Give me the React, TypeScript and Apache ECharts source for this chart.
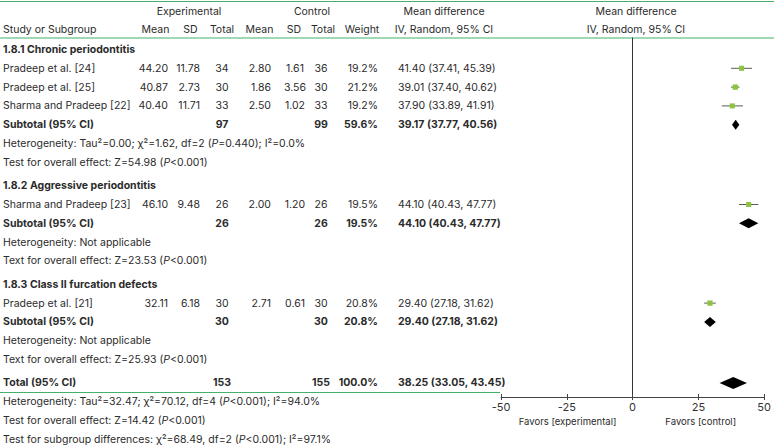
import React, { useEffect, useRef } from "react";
import * as echarts from "echarts";

// ---------------- data ----------------
const groups = [
  "1.8.1 Chronic periodontitis",
  "1.8.2 Aggressive periodontitis",
  "1.8.3 Class II furcation defects",
];
const studies = [
  "Pradeep et al. [24]",
  "Pradeep et al. [25]",
  "Sharma and Pradeep [22]",
  "Sharma and Pradeep [23]",
  "Pradeep et al. [21]",
];
const studyGroup = [0, 0, 0, 1, 2];
const expMean = [44.2, 40.87, 40.4, 46.1, 32.11];
const expSD = [11.78, 2.73, 11.71, 9.48, 6.18];
const expN = [34, 30, 33, 26, 30];
const ctlMean = [2.8, 1.86, 2.5, 2.0, 2.71];
const ctlSD = [1.61, 3.56, 1.02, 1.2, 0.61];
const ctlN = [36, 30, 33, 26, 30];
const weights = [19.2, 21.2, 19.2, 19.5, 20.8];
const md = [41.4, 39.01, 37.9, 44.1, 29.4];
const mdLo = [37.41, 37.4, 33.89, 40.43, 27.18];
const mdHi = [45.39, 40.62, 41.91, 47.77, 31.62];

const subExpN = [97, 26, 30];
const subCtlN = [99, 26, 30];
const subWeight = [59.6, 19.5, 20.8];
const subMd = [39.17, 44.1, 29.4];
const subLo = [37.77, 40.43, 27.18];
const subHi = [40.56, 47.77, 31.62];
const subHeterogeneity = [
  "Heterogeneity: Tau²=0.00; χ²=1.62, df=2 ({i|P}=0.440); I²=0.0%",
  "Heterogeneity: Not applicable",
  "Heterogeneity: Not applicable",
];
const subOverall = [
  "Test for overall effect: Z=54.98 ({i|P}<0.001)",
  "Text for overall effect: Z=23.53 ({i|P}<0.001)",
  "Text for overall effect: Z=25.93 ({i|P}<0.001)",
];

const totalExpN = 153;
const totalCtlN = 155;
const totalWeight = 100.0;
const totalMd = 38.25;
const totalLo = 33.05;
const totalHi = 43.45;
const totalNotes = [
  "Heterogeneity: Tau²=32.47; χ²=70.12, df=4 ({i|P}<0.001); I²=94.0%",
  "Test for overall effect: Z=14.42 ({i|P}<0.001)",
  "Test for subgroup differences: χ²=68.49, df=2 ({i|P}<0.001); I²=97.1%",
];

const xMin = -50;
const xMax = 50;
const xInterval = 25;
const favorLabels = ["Favors [experimental]", "Favors [control]"];

// ---------------- layout ----------------
const W = 774;
const H = 446;
const FONT = "Inter, 'Noto Sans', sans-serif";
const FS = 10.5;
const TEXT = "#2b2b2b";
const GREEN = "#43b06c";
const SQUARE = "#8cc43f";
const Y0 = 49.5; // first row centre
const ROW_H = 18.8;
const GAP = 0.245; // extra rows between sections
const GRID_LEFT = 501;
const GRID_RIGHT = 767.3;
const GRID_TOP = 38;
const GRID_BOTTOM = 397;

const slot = (i: number, sec: number) => i + sec * GAP;
const py = (v: number) => Y0 + v * ROW_H;

const f2 = (n: number) => n.toFixed(2);
const ci = (m: number, l: number, h: number) => `${f2(m)} (${f2(l)}, ${f2(h)})`;

export default function App() {
  const ref = useRef<HTMLDivElement>(null);

  useEffect(() => {
    if (!ref.current) return;
    const chart = echarts.init(ref.current, undefined, { renderer: "svg" });

    const texts: any[] = [];
    const txt = (
      s: string,
      x: number,
      y: number,
      align: string,
      bold = false,
      size = FS,
      color = TEXT
    ) => {
      texts.push({
        type: "text",
        silent: true,
        style: {
          text: s,
          x,
          y,
          align,
          verticalAlign: "middle",
          textAlign: align,
          textVerticalAlign: "middle",
          font: `${bold ? "bold " : ""}${size}px ${FONT}`,
          fill: color,
          rich: {
            i: {
              fontStyle: "italic",
              fontWeight: bold ? "bold" : "normal",
              fontSize: size,
              fontFamily: FONT,
              fill: color,
            },
          },
        },
      });
    };

    // column positions
    const C = {
      study: 3,
      eMean: 168,
      eSD: 200,
      eN: 222,
      cMean: 271,
      cSD: 295,
      cN: 321,
      wt: 378,
      ci: 398,
    };

    // headers
    const h1 = 11;
    const h2 = 29;
    txt("Experimental", 189, h1, "center");
    txt("Control", 312, h1, "center");
    txt("Mean difference", 444, h1, "center");
    txt("Mean difference", 636, h1, "center");
    txt("Study or Subgroup", C.study, h2, "left");
    txt("Mean", 155.5, h2, "center");
    txt("SD", 190.5, h2, "center");
    txt("Total", 222, h2, "center");
    txt("Mean", 259.5, h2, "center");
    txt("SD", 294, h2, "center");
    txt("Total", 323, h2, "center");
    txt("Weight", 362, h2, "center");
    txt("IV, Random, 95% CI", 444, h2, "center");
    txt("IV, Random, 95% CI", 636, h2, "center");

    const studyData: any[] = [];
    const diamondData: any[] = [];

    let idx = 0;
    groups.forEach((g, gi) => {
      txt(g, C.study, py(slot(idx++, gi)), "left", true);
      studies.forEach((s, si) => {
        if (studyGroup[si] !== gi) return;
        const v = slot(idx++, gi);
        const y = py(v);
        txt(s, C.study, y, "left");
        txt(f2(expMean[si]), C.eMean, y, "right");
        txt(f2(expSD[si]), C.eSD, y, "right");
        txt(String(expN[si]), C.eN, y, "center");
        txt(f2(ctlMean[si]), C.cMean, y, "right");
        txt(f2(ctlSD[si]), C.cSD, y, "center");
        txt(String(ctlN[si]), C.cN, y, "center");
        txt(`${weights[si].toFixed(1)}%`, C.wt, y, "right");
        txt(ci(md[si], mdLo[si], mdHi[si]), C.ci, y, "left");
        studyData.push([md[si], mdLo[si], mdHi[si], v, weights[si]]);
      });
      const vs = slot(idx++, gi);
      const ys = py(vs);
      txt("Subtotal (95% CI)", C.study, ys, "left", true);
      txt(String(subExpN[gi]), C.eN, ys, "center", true);
      txt(String(subCtlN[gi]), C.cN, ys, "center", true);
      txt(`${subWeight[gi].toFixed(1)}%`, C.wt, ys, "right", true);
      txt(ci(subMd[gi], subLo[gi], subHi[gi]), C.ci, ys, "left", true);
      diamondData.push([subMd[gi], subLo[gi], subHi[gi], vs, 5]);
      txt(subHeterogeneity[gi], C.study, py(slot(idx++, gi)), "left");
      txt(subOverall[gi], C.study, py(slot(idx++, gi)), "left");
    });
    const sec = groups.length;
    const vt = slot(idx++, sec);
    const yt = py(vt);
    txt("Total (95% CI)", C.study, yt, "left", true);
    txt(String(totalExpN), C.eN, yt, "center", true);
    txt(String(totalCtlN), C.cN, yt, "center", true);
    txt(`${totalWeight.toFixed(1)}%`, C.wt, yt, "right", true);
    txt(ci(totalMd, totalLo, totalHi), C.ci, yt, "left", true);
    diamondData.push([totalMd, totalLo, totalHi, vt, 6]);
    totalNotes.forEach((n) => txt(n, C.study, py(slot(idx++, sec)), "left"));

    // favours labels
    txt(favorLabels[0], GRID_LEFT + (GRID_RIGHT - GRID_LEFT) * 0.25, 421, "center", false, 9.5);
    txt(favorLabels[1], GRID_LEFT + (GRID_RIGHT - GRID_LEFT) * 0.75, 421, "center", false, 9.5);

    const lines = [
      { x1: 0, y1: 1.5, x2: W, y2: 1.5 },
      { x1: 0, y1: 38, x2: W, y2: 38 },
      { x1: 0, y1: 392.5, x2: 500, y2: 392.5 },
    ].map((shape) => ({
      type: "line",
      silent: true,
      shape,
      style: { stroke: GREEN, lineWidth: 1.2 },
    }));

    const yMin = (GRID_TOP - Y0) / ROW_H;
    const yMax = (GRID_BOTTOM - Y0) / ROW_H;

    const baseX = {
      type: "value",
      min: xMin,
      max: xMax,
      interval: xInterval,
      position: "bottom",
      splitLine: { show: false },
    };

    chart.setOption({
      animation: false,
      grid: {
        left: GRID_LEFT,
        top: GRID_TOP,
        width: GRID_RIGHT - GRID_LEFT,
        height: GRID_BOTTOM - GRID_TOP,
        containLabel: false,
      },
      xAxis: [
        {
          ...baseX,
          axisLine: { show: true, onZero: false, lineStyle: { color: "#444", width: 1 } },
          axisTick: { show: true, length: 3, lineStyle: { color: "#444" } },
          axisLabel: {
            show: true,
            margin: 4,
            color: "#333",
            fontSize: 11,
            fontFamily: FONT,
          },
        },
        {
          ...baseX,
          axisLine: { show: false, onZero: false },
          axisTick: { show: true, inside: true, length: 3, lineStyle: { color: "#444" } },
          axisLabel: { show: false },
        },
      ],
      yAxis: {
        type: "value",
        min: yMin,
        max: yMax,
        inverse: true,
        axisLine: { show: true, onZero: true, lineStyle: { color: "#333", width: 1 } },
        axisTick: { show: false },
        axisLabel: { show: false },
        splitLine: { show: false },
      },
      series: [
        {
          type: "custom",
          name: "studies",
          xAxisIndex: 0,
          encode: { x: [0, 1, 2], y: 3 },
          data: studyData,
          renderItem: (params: any, api: any) => {
            const v = api.value(3);
            const a = api.coord([api.value(1), v]);
            const b = api.coord([api.value(2), v]);
            const c = api.coord([api.value(0), v]);
            const s = Math.sqrt(api.value(4)) * 1.15;
            return {
              type: "group",
              children: [
                {
                  type: "line",
                  shape: { x1: a[0], y1: a[1], x2: b[0], y2: b[1] },
                  style: { stroke: "#5a5a5a", lineWidth: 1 },
                },
                {
                  type: "rect",
                  shape: { x: c[0] - s / 2, y: c[1] - s / 2, width: s, height: s },
                  style: { fill: SQUARE },
                },
              ],
            };
          },
        },
        {
          type: "custom",
          name: "pooled",
          xAxisIndex: 0,
          encode: { x: [0, 1, 2], y: 3 },
          data: diamondData,
          renderItem: (params: any, api: any) => {
            const v = api.value(3);
            const hh = api.value(4);
            const a = api.coord([api.value(1), v]);
            const b = api.coord([api.value(2), v]);
            const c = api.coord([api.value(0), v]);
            return {
              type: "polygon",
              shape: {
                points: [
                  [a[0], a[1]],
                  [c[0], c[1] - hh],
                  [b[0], b[1]],
                  [c[0], c[1] + hh],
                ],
              },
              style: { fill: "#000" },
            };
          },
        },
      ],
      graphic: [...lines, ...texts],
    });

    return () => chart.dispose();
  }, []);

  return (
    <div
      ref={ref}
      style={{ position: "absolute", left: 0, top: 0, width: W, height: H, background: "#fff" }}
    />
  );
}
